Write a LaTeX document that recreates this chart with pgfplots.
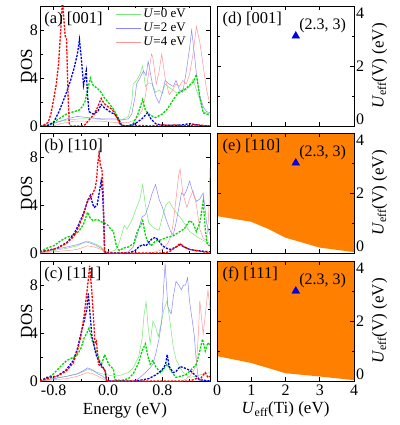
\documentclass[border=0pt]{standalone}
\usepackage{fontspec}
\setmainfont{Liberation Serif}
\usepackage{pgfplots}
\pgfplotsset{compat=1.18}
\definecolor{tg}{RGB}{120,230,120}
\definecolor{tb}{RGB}{135,135,255}
\definecolor{tr}{RGB}{255,150,150}
\definecolor{dg}{RGB}{0,215,0}
\definecolor{db}{RGB}{0,0,230}
\definecolor{dr}{RGB}{255,0,0}
\definecolor{orng}{RGB}{255,128,0}
\tikzset{plab/.style={anchor=north west, inner sep=0pt, font=\fontsize{16.5}{19}\selectfont},
  alab/.style={anchor=west, inner sep=0pt, font=\fontsize{16}{18}\selectfont}}
\pgfplotsset{
 basepanel/.style={scale only axis, /pgf/number format/assume math mode=true,
   tick align=inside, tick style={black, line width=0.6pt}, major tick length=4pt, minor tick length=2.5pt,
   axis line style={line width=0.8pt}, tick label style={font=\fontsize{16}{18}\selectfont},
   every axis label/.append style={font=\fontsize{17}{19}\selectfont}},
 leftpanel/.style={basepanel, width=170pt, height=120pt, xmin=-1, xmax=1.5, ymin=0, ymax=10,
   xtick={-0.8,0,0.8}, minor xtick={-0.4,0.4,1.2}, ytick={0,4,8}, minor ytick={2,6},
   yticklabels={0,4,8}, yticklabel style={inner sep=2pt},
   ylabel={DOS}, ylabel shift=-8pt, xticklabels={}},
 rightpanel/.style={basepanel, width=137pt, height=120pt, xmin=0, xmax=4, ymin=0, ymax=4,
   xtick={0,1,2,3,4}, ytick={0,2,4}, minor ytick={1,3}, yticklabel pos=right,
   yticklabels={\raisebox{7pt}[\height][\depth]{0},2,\raisebox{-7pt}[\height][\depth]{4}}, yticklabel style={inner sep=2pt},
   ylabel={\textit{U}\textsubscript{eff}(V) (eV)}, ylabel shift=2pt, xticklabels={}, axis on top},
 thn/.style={line width=0.5pt, no marks},
 dsh/.style={line width=1.3pt, dash pattern=on 2.2pt off 1.3pt, no marks, forget plot},
}
\begin{document}
\begin{tikzpicture}
\useasboundingbox (0pt,0pt) rectangle (399pt,-425pt);
% ---------------- (a)
\begin{axis}[leftpanel, at={(40pt,-6pt)}, anchor=north west,
  legend style={at={(rel axis cs:0.445,0.995)}, anchor=north west, draw=none, fill=none,
   font=\fontsize{13}{14}\selectfont, row sep=0pt, inner sep=0pt},
  legend image code/.code={\draw[#1] (0pt,0pt) -- (25pt,0pt);}]
\addplot[thn, tg] coordinates {(-1.0,0) (-0.9,0.1) (-0.8,0.3) (-0.6,0.5) (-0.4,0.6) (-0.2,0.6) (0.0,0.5) (0.1,0.5) (0.2,0.5) (0.3,0.8) (0.35,2.0) (0.37,3.5) (0.42,3.8) (0.47,4.3) (0.51,5.0) (0.55,3.3) (0.6,3.6) (0.65,3.5) (0.7,2.8) (0.75,3.0) (0.8,2.7) (0.84,3.5) (0.9,3.2) (0.96,3.0) (1.0,2.8) (1.05,2.7) (1.1,3.1) (1.15,3.0) (1.2,3.3) (1.25,3.9) (1.3,3.0) (1.35,2.2) (1.4,1.2) (1.45,1.1) (1.5,1.0)};
\addlegendentry{\textit{U}=0 eV}
\addplot[thn, tb] coordinates {(-1.0,0) (-0.85,0.1) (-0.75,0.3) (-0.6,0.6) (-0.45,0.8) (-0.3,0.7) (-0.1,0.6) (0.1,0.6) (0.2,0.5) (0.3,0.6) (0.35,1.0) (0.4,2.5) (0.42,3.5) (0.47,4.0) (0.52,4.6) (0.56,4.2) (0.59,5.4) (0.62,4.5) (0.66,3.3) (0.7,2.5) (0.75,1.9) (0.8,2.8) (0.84,3.8) (0.9,3.5) (0.96,3.3) (1.0,3.8) (1.05,3.0) (1.1,2.8) (1.15,4.5) (1.2,6.5) (1.23,8.0) (1.27,6.0) (1.3,4.3) (1.35,2.5) (1.4,1.6) (1.45,1.2) (1.5,1.1)};
\addlegendentry{\textit{U}=2 eV}
\addplot[thn, tr] coordinates {(-1.0,0) (-0.8,0) (-0.7,0.2) (-0.5,0.4) (-0.3,0.4) (-0.1,0.4) (0.1,0.3) (0.3,0.3) (0.4,0.5) (0.47,1.0) (0.51,1.4) (0.55,2.5) (0.6,4.5) (0.64,6.0) (0.66,5.7) (0.71,3.5) (0.75,4.5) (0.79,6.0) (0.81,5.2) (0.84,4.0) (0.9,2.6) (0.95,3.0) (1.0,3.5) (1.05,3.3) (1.1,3.8) (1.15,3.5) (1.2,4.3) (1.25,6.0) (1.3,8.3) (1.35,7.0) (1.4,5.0) (1.45,3.0) (1.5,1.8)};
\addlegendentry{\textit{U}=4 eV}
\addplot[dsh, dg] coordinates {(-1.0,0) (-0.85,0.1) (-0.75,0.5) (-0.61,1.0) (-0.5,1.2) (-0.43,1.3) (-0.38,1.6) (-0.34,2.0) (-0.3,3.0) (-0.26,4.0) (-0.22,3.4) (-0.15,3.1) (-0.1,2.8) (-0.06,2.4) (0.0,2.0) (0.08,1.4) (0.15,0.7) (0.2,0.05) (0.3,0) (0.37,0.2) (0.44,1.0) (0.51,2.2) (0.55,1.3) (0.62,0.9) (0.7,0.7) (0.8,1.0) (0.87,1.4) (0.96,2.2) (1.04,2.8) (1.12,3.0) (1.2,3.4) (1.26,3.7) (1.3,4.3) (1.35,2.4) (1.4,1.1) (1.45,1.0) (1.5,0.9)};
\addplot[dsh, db] coordinates {(-1.0,0) (-0.9,0) (-0.8,0.3) (-0.72,1.2) (-0.63,2.5) (-0.55,3.8) (-0.5,4.8) (-0.45,6.0) (-0.42,7.2) (-0.39,5.5) (-0.36,3.4) (-0.32,4.6) (-0.3,2.5) (-0.28,1.2) (-0.22,1.0) (-0.15,1.2) (-0.1,1.8) (-0.05,1.5) (0.0,1.3) (0.05,1.1) (0.1,1.0) (0.15,0.6) (0.2,0.05) (0.3,0) (0.4,0.2) (0.5,0.6) (0.58,1.1) (0.63,0.6) (0.7,0.2) (0.8,0.05) (1.0,0.05) (1.1,0.1) (1.2,0.2) (1.3,0.1) (1.4,0) (1.5,0)};
\addplot[dsh, dr] coordinates {(-1.0,0) (-0.95,0.05) (-0.88,0.3) (-0.84,1.0) (-0.8,2.2) (-0.76,3.5) (-0.73,5.0) (-0.7,7.5) (-0.67,10.5) (-0.65,9) (-0.63,7.5) (-0.61,7.3) (-0.59,3.0) (-0.57,0.2) (-0.55,0) (-0.4,0) (-0.34,0.1) (-0.28,0.5) (-0.2,1.0) (-0.15,1.6) (-0.1,2.3) (-0.06,1.9) (0.0,1.6) (0.06,1.4) (0.1,1.0) (0.14,0.6) (0.18,0.1) (0.25,0) (0.5,0.05) (0.6,0) (0.8,0.1) (0.9,0.05) (1.0,0.1) (1.1,0) (1.2,0.05) (1.3,0.1) (1.4,0.05) (1.5,0)};
\node[plab] at (rel axis cs:0.025,0.95) {(a) [001]};
\end{axis}
% ---------------- (b)
\begin{axis}[leftpanel, at={(40pt,-133pt)}, anchor=north west]
\addplot[thn, tg] coordinates {(-1.0,0) (-0.8,0.2) (-0.6,0.4) (-0.45,0.6) (-0.35,0.9) (-0.3,1.0) (-0.2,0.8) (-0.1,0.5) (-0.05,0.2) (0.0,0.1) (0.1,0.2) (0.15,0.6) (0.2,1.5) (0.24,2.3) (0.28,2.0) (0.33,2.5) (0.37,3.0) (0.42,3.8) (0.47,4.5) (0.51,5.7) (0.55,4.0) (0.6,2.5) (0.65,2.2) (0.7,2.0) (0.75,1.9) (0.8,3.0) (0.85,4.0) (0.9,4.3) (0.95,3.8) (1.0,3.4) (1.06,3.0) (1.12,2.5) (1.2,1.8) (1.27,1.5) (1.35,1.2) (1.42,1.0) (1.5,0.8)};
\addplot[thn, tb] coordinates {(-1.0,0) (-0.8,0.3) (-0.6,0.5) (-0.45,0.7) (-0.35,0.9) (-0.3,0.9) (-0.2,0.7) (-0.1,0.4) (-0.05,0.1) (0.0,0) (0.2,0) (0.3,0.1) (0.37,0.5) (0.43,1.5) (0.5,3.0) (0.55,3.2) (0.6,4.0) (0.65,5.0) (0.7,5.7) (0.75,4.5) (0.8,3.8) (0.86,2.7) (0.92,1.8) (0.96,1.5) (1.0,2.5) (1.05,4.0) (1.08,5.0) (1.12,4.8) (1.16,5.3) (1.2,6.0) (1.25,5.0) (1.3,4.3) (1.35,4.5) (1.4,5.0) (1.45,2.5) (1.5,1.5)};
\addplot[thn, tr] coordinates {(-1.0,0) (-0.8,0.1) (-0.6,0.2) (-0.45,0.3) (-0.35,0.5) (-0.3,0.6) (-0.2,0.5) (-0.1,0.3) (-0.05,0.1) (0.0,0) (0.6,0) (0.7,0.1) (0.8,0.3) (0.88,0.8) (0.93,1.5) (0.96,2.5) (1.0,4.5) (1.04,6.5) (1.06,7.0) (1.1,5.0) (1.16,3.8) (1.2,4.5) (1.25,5.2) (1.3,4.0) (1.35,2.0) (1.4,1.2) (1.45,1.1) (1.48,3.0) (1.5,7.0)};
\addplot[dsh, dg] coordinates {(-1.0,0.1) (-0.9,0.4) (-0.8,0.6) (-0.7,1.0) (-0.61,1.3) (-0.5,1.5) (-0.43,1.8) (-0.36,2.4) (-0.3,3.4) (-0.26,2.9) (-0.22,2.7) (-0.16,2.8) (-0.1,2.6) (-0.05,2.5) (0.0,2.3) (0.04,2.0) (0.08,1.8) (0.1,1.2) (0.12,0.7) (0.15,0.3) (0.17,0.2) (0.22,0.4) (0.3,0.5) (0.38,0.8) (0.43,1.8) (0.47,2.2) (0.51,2.7) (0.55,1.5) (0.58,1.0) (0.63,0.6) (0.7,1.0) (0.78,1.1) (0.86,1.3) (0.95,1.4) (1.06,1.8) (1.12,2.0) (1.2,2.7) (1.25,2.5) (1.3,1.8) (1.35,2.5) (1.4,4.3) (1.43,2.0) (1.46,0.7) (1.5,0.6)};
\addplot[dsh, db] coordinates {(-1.0,0.1) (-0.9,0.2) (-0.75,0.4) (-0.6,0.9) (-0.5,1.6) (-0.43,2.4) (-0.36,3.3) (-0.3,4.3) (-0.26,4.8) (-0.22,4.0) (-0.2,3.8) (-0.16,4.0) (-0.13,5.0) (-0.1,6.0) (-0.08,5.0) (-0.06,2.5) (-0.05,0.1) (0.0,0) (0.3,0) (0.4,0.2) (0.45,0.5) (0.51,0.7) (0.56,0.6) (0.6,0.9) (0.65,1.2) (0.7,1.3) (0.75,1.0) (0.8,0.6) (0.86,0.4) (0.92,0.3) (1.0,0.5) (1.06,0.7) (1.12,0.5) (1.2,0.3) (1.3,0.2) (1.4,0.15) (1.5,0.1)};
\addplot[dsh, dr] coordinates {(-1.0,0.1) (-0.9,0.2) (-0.75,0.4) (-0.61,0.8) (-0.5,1.4) (-0.43,2.2) (-0.36,3.2) (-0.3,4.4) (-0.26,4.6) (-0.22,5.0) (-0.19,5.4) (-0.17,6.0) (-0.15,7.5) (-0.13,8.3) (-0.11,7.2) (-0.09,7.0) (-0.07,5.0) (-0.06,2.0) (-0.05,0.1) (0.0,0) (0.8,0) (0.9,0.1) (1.0,0.5) (1.06,0.8) (1.12,0.5) (1.2,0.3) (1.3,0.2) (1.4,0.1) (1.5,0)};
\node[plab] at (rel axis cs:0.025,0.95) {(b) [110]};
\end{axis}
% ---------------- (c)
\begin{axis}[leftpanel, at={(40pt,-261pt)}, anchor=north west,
  xticklabels={-0.8,0.0,0.8}, xlabel={Energy (eV)}]
\addplot[thn, tg] coordinates {(-1.0,0) (-0.8,0.2) (-0.6,0.4) (-0.45,0.6) (-0.35,0.8) (-0.3,1.0) (-0.2,0.8) (-0.1,0.6) (0.0,0.5) (0.1,0.4) (0.2,0.5) (0.3,0.7) (0.37,1.1) (0.45,2.0) (0.5,3.5) (0.53,5.5) (0.56,6.6) (0.59,4.5) (0.62,3.1) (0.66,5.0) (0.7,4.5) (0.74,3.7) (0.78,4.8) (0.82,5.9) (0.87,6.7) (0.91,5.0) (0.96,2.8) (1.0,1.8) (1.06,1.1) (1.12,0.6) (1.2,0.3) (1.3,0.4) (1.4,0.6) (1.5,0.7)};
\addplot[thn, tb] coordinates {(-1.0,0) (-0.8,0.2) (-0.6,0.4) (-0.45,0.6) (-0.35,0.9) (-0.3,1.1) (-0.22,0.9) (-0.15,0.6) (-0.08,0.4) (-0.02,0.1) (0.0,0) (0.4,0) (0.47,0.3) (0.55,0.7) (0.62,1.1) (0.66,1.4) (0.7,2.2) (0.75,3.5) (0.79,5.0) (0.82,8.0) (0.84,9.8) (0.86,8.0) (0.88,6.2) (0.91,5.8) (0.93,5.6) (0.96,7.0) (1.0,8.3) (1.04,8.0) (1.08,7.6) (1.11,8.0) (1.14,8.0) (1.17,8.6) (1.2,6.6) (1.24,5.0) (1.27,3.7) (1.3,1.5) (1.33,0.1) (1.5,0)};
\addplot[thn, tr] coordinates {(-1.0,0) (-0.8,0.1) (-0.6,0.2) (-0.45,0.4) (-0.35,0.6) (-0.3,0.7) (-0.22,0.6) (-0.15,0.4) (-0.05,0.1) (0.0,0) (1.1,0) (1.2,0.4) (1.26,0.9) (1.3,1.4) (1.33,4.0) (1.35,6.7) (1.38,5.0) (1.4,3.9) (1.43,5.5) (1.47,7.6) (1.5,6.0)};
\addplot[dsh, dg] coordinates {(-1.0,0) (-0.9,0.2) (-0.8,0.6) (-0.7,1.2) (-0.61,1.7) (-0.5,2.0) (-0.45,2.2) (-0.4,2.7) (-0.35,3.6) (-0.31,4.0) (-0.28,4.4) (-0.24,3.5) (-0.19,2.7) (-0.14,2.0) (-0.1,1.3) (-0.07,1.8) (-0.05,2.2) (-0.02,1.8) (0.02,1.3) (0.06,1.1) (0.08,1.0) (0.1,0.1) (0.2,0.05) (0.3,0.2) (0.37,0.6) (0.45,1.5) (0.5,2.5) (0.55,3.1) (0.59,2.0) (0.62,1.4) (0.66,1.7) (0.7,1.2) (0.77,0.7) (0.82,1.0) (0.87,1.4) (0.93,0.8) (1.0,0.3) (1.07,0.4) (1.14,0.5) (1.2,0.8) (1.25,1.1) (1.3,1.4) (1.35,2.5) (1.39,3.5) (1.43,2.5) (1.47,3.2) (1.5,3.0)};
\addplot[dsh, db] coordinates {(-1.0,0) (-0.9,0.3) (-0.75,0.4) (-0.62,0.9) (-0.51,1.7) (-0.45,2.7) (-0.4,3.9) (-0.35,5.0) (-0.31,6.0) (-0.29,7.3) (-0.27,6.0) (-0.24,3.9) (-0.2,2.8) (-0.17,2.1) (-0.12,1.5) (-0.07,1.1) (-0.04,0.8) (-0.02,0) (0.4,0) (0.51,0.1) (0.6,0.2) (0.7,0.5) (0.77,0.8) (0.82,1.1) (0.85,1.5) (0.87,2.2) (0.9,1.2) (0.96,0.7) (1.0,0.8) (1.06,1.2) (1.12,1.1) (1.2,0.9) (1.28,0.5) (1.35,0.1) (1.5,0)};
\addplot[dsh, dr] coordinates {(-1.0,0) (-0.9,0.2) (-0.75,0.4) (-0.62,0.8) (-0.51,1.5) (-0.45,2.5) (-0.4,3.7) (-0.35,5.5) (-0.3,7.9) (-0.27,9.6) (-0.24,7.6) (-0.21,5.0) (-0.19,3.1) (-0.17,3.3) (-0.14,1.4) (-0.1,1.2) (-0.06,1.0) (-0.04,0.8) (-0.02,0) (1.2,0) (1.3,0.2) (1.35,0.1) (1.4,0.5) (1.43,0.7) (1.47,0.3) (1.5,0.4)};
\node[plab] at (rel axis cs:0.025,0.95) {(c) [111]};
\end{axis}
% ---------------- (d)
\begin{axis}[rightpanel, at={(217pt,-6pt)}, anchor=north west]
\addplot[only marks, mark=triangle*, mark size=4.5pt, color=db] coordinates {(2.3,3)};
\node[plab] at (rel axis cs:0.04,0.95) {(d) [001]};
\node[alab] at (axis cs:2.4,3.35) {(2.3, 3)};
\end{axis}
% ---------------- (e)
\begin{axis}[rightpanel, at={(217pt,-133pt)}, anchor=north west]
\addplot[fill=orng, draw=none] coordinates {(0,4) (0,1.23) (1,1.04) (1.5,0.8) (2,0.51) (3,0.18) (4,0.03) (4,4)} -- cycle;
\addplot[only marks, mark=triangle*, mark size=4.5pt, color=db] coordinates {(2.3,3)};
\node[plab] at (rel axis cs:0.04,0.95) {(e) [110]};
\node[alab] at (axis cs:2.4,3.35) {(2.3, 3)};
\end{axis}
% ---------------- (f)
\begin{axis}[rightpanel, at={(217pt,-261pt)}, anchor=north west,
  xticklabels={0,1,2,3,4}, xlabel={\textit{U}\textsubscript{eff}(Ti) (eV)}]
\addplot[fill=orng, draw=none] coordinates {(0,4) (0,0.83) (1,0.6) (2,0.26) (3,0.15) (4,0.03) (4,4)} -- cycle;
\addplot[only marks, mark=triangle*, mark size=4.5pt, color=db] coordinates {(2.3,3)};
\node[plab] at (rel axis cs:0.04,0.95) {(f) [111]};
\node[alab] at (axis cs:2.4,3.35) {(2.3, 3)};
\end{axis}
\end{tikzpicture}
\end{document}
